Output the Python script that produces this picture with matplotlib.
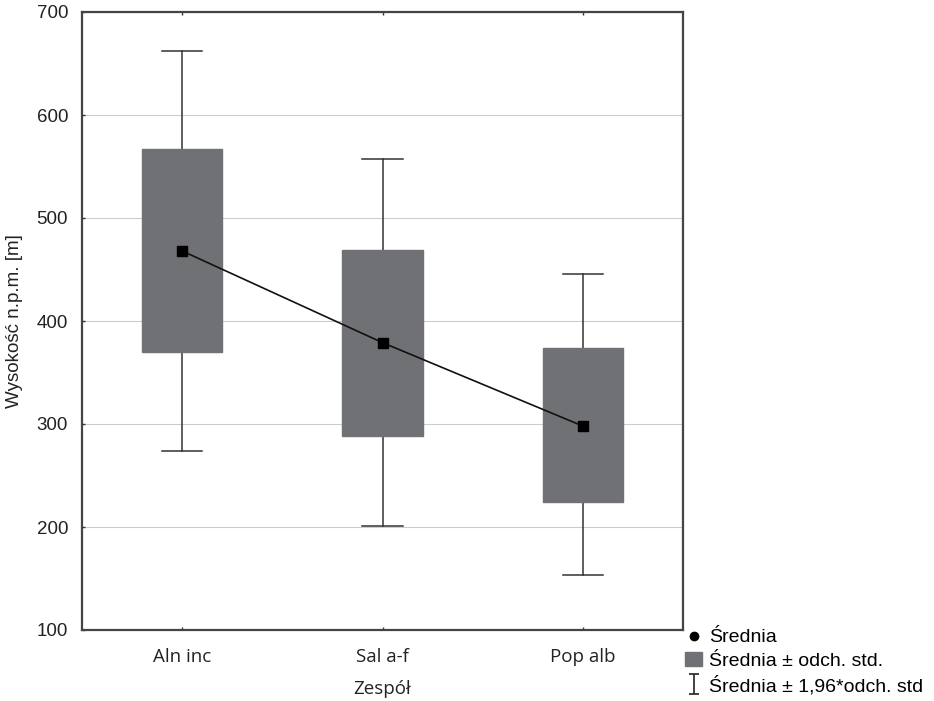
import numpy as np
import matplotlib.pyplot as plt
from matplotlib.lines import Line2D
from matplotlib.patches import Patch
from matplotlib.path import Path

# data
zespoly = ['Aln inc', 'Sal a-f', 'Pop alb']
srednia = [468, 379, 298]
odch_gora = [567, 469, 374]      # mean + sd
odch_dol = [370, 288, 224]       # mean - sd
wasy_gora = [662, 557, 446]      # mean + 1.96 sd
wasy_dol = [274, 201, 153]       # mean - 1.96 sd

plt.rcParams['font.family'] = ['Liberation Sans', 'DejaVu Sans']

fig = plt.figure(figsize=(9.34, 7.01), dpi=100)
ax = fig.add_axes([82/934, 1 - 630/701, 601/934, 618/701])

x = np.arange(len(zespoly)) + 0.5
box_col = '#707174'

# whiskers (1.96*sd)
for xi, lo, hi in zip(x, wasy_dol, wasy_gora):
    ax.plot([xi, xi], [lo, hi], color='#333333', lw=1.1, zorder=2)
    ax.plot([xi - 0.1, xi + 0.1], [hi, hi], color='#333333', lw=1.1, zorder=2)
    ax.plot([xi - 0.1, xi + 0.1], [lo, lo], color='#333333', lw=1.1, zorder=2)

# boxes (mean +/- sd)
ax.bar(x, np.array(odch_gora) - np.array(odch_dol), bottom=odch_dol,
       width=0.4, color=box_col, edgecolor=box_col, zorder=3)

# means
ax.plot(x, srednia, color='#111111', lw=1.2, marker='s', markersize=7,
        markerfacecolor='black', markeredgecolor='black', zorder=4)

ax.set_xlim(0, 3)
ax.set_ylim(100, 700)
ax.set_yticks([100, 200, 300, 400, 500, 600, 700])
ax.set_xticks(x)
ax.set_xticklabels(zespoly, fontsize=13.5, family=['Open Sans', 'DejaVu Sans'])
ax.tick_params(axis='y', labelsize=13.5, direction='in', length=2, width=1,
               colors='#333333', pad=10)
ax.tick_params(axis='x', direction='in', length=2, width=1, colors='#333333', pad=13,
               top=True)
for lab in ax.get_xticklabels() + ax.get_yticklabels():
    lab.set_color('#222222')

ax.grid(axis='y', color='#cccccc', lw=0.8, zorder=0)
ax.set_axisbelow(True)
for s in ax.spines.values():
    s.set_color('#444444')
    s.set_linewidth(1.6)

ax.set_xlabel('Zespół', fontsize=13.5, family=['Open Sans', 'DejaVu Sans'],
              color='#222222', labelpad=10)
ax.set_ylabel('Wysokość n.p.m. [m]', fontsize=13.5, color='#222222', labelpad=10)

# legend
ibeam = Path([(-0.5, 1), (0.5, 1), (0, 1), (0, -1), (-0.5, -1), (0.5, -1)],
             [Path.MOVETO, Path.LINETO, Path.MOVETO, Path.LINETO, Path.MOVETO, Path.LINETO])
handles = [
    Line2D([], [], marker='o', color='black', ls='none', markersize=6),
    Patch(facecolor=box_col, edgecolor=box_col),
    Line2D([], [], marker=ibeam, color='#333333', ls='none', markersize=14,
           markeredgewidth=1.3),
]
labels = ['Średnia', 'Średnia ± odch. std.', 'Średnia ± 1,96*odch. std']
fig.legend(handles, labels, loc='upper left', bbox_to_anchor=(677/934, 1 - 621/701),
           frameon=False, fontsize=14, handlelength=0.9, handletextpad=0.35,
           labelspacing=0.3, borderaxespad=0)

fig.savefig('out.png', dpi=100)
